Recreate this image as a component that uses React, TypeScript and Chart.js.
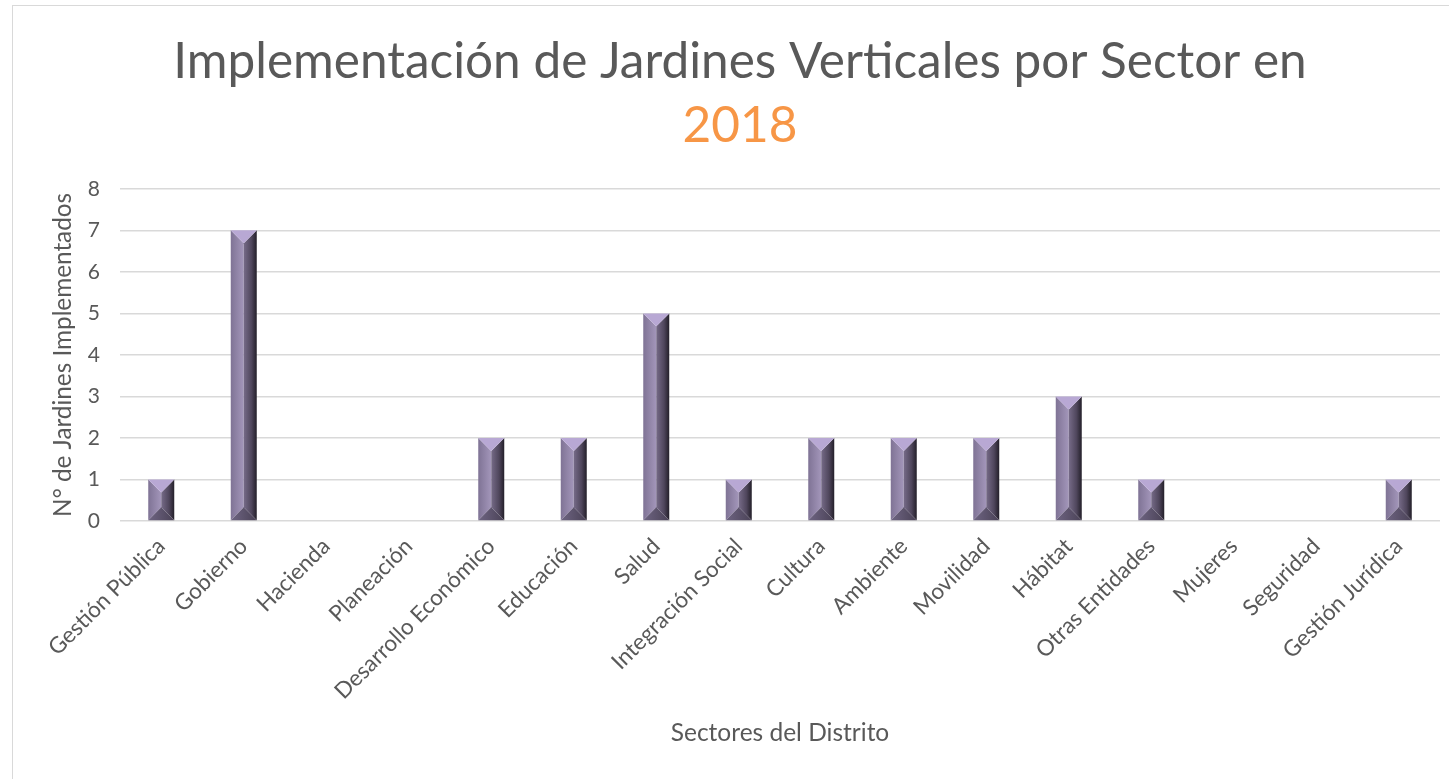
import React, { useEffect, useRef } from "react";
import { Chart, registerables } from "chart.js";

Chart.register(...registerables);

const categories = [
  "Gestión Pública",
  "Gobierno",
  "Hacienda",
  "Planeación",
  "Desarrollo Económico",
  "Educación",
  "Salud",
  "Integración Social",
  "Cultura",
  "Ambiente",
  "Movilidad",
  "Hábitat",
  "Otras Entidades",
  "Mujeres",
  "Seguridad",
  "Gestión Jurídica",
];
const values = [1, 7, 0, 0, 2, 2, 5, 1, 2, 2, 2, 3, 1, 0, 0, 1];
const yTickValues = [0, 1, 2, 3, 4, 5, 6, 7, 8];
const titleLine = "Implementación de Jardines Verticales por Sector en";
const titleYear = "2018";
const yAxisTitle = "N° de Jardines Implementados";
const xAxisTitle = "Sectores del Distrito";

const FONT = "Lato, 'Open Sans', sans-serif";
const TEXT = "#595959";

const bevelPlugin = {
  id: "bevel",
  afterLayout(chart: any) {
    // shift the title block's centre to match the original layout
    (chart.boxes || []).forEach((box: any) => {
      const t = box && box.options && box.options.text;
      if (t === titleLine || t === titleYear) {
        box.left = 40;
        box.right = 1440;
      }
    });
  },
  afterDatasetsDraw(chart: any) {
    const ctx = chart.ctx as CanvasRenderingContext2D;
    const meta = chart.getDatasetMeta(0);
    meta.data.forEach((el: any) => {
      const { x, y, base, width } = el.getProps(["x", "y", "base", "width"], true);
      const h = base - y;
      if (h <= 0.5) return;
      const L = x - width / 2;
      const R = x + width / 2;
      const T = y;
      const B = base;
      const d = Math.min(width / 2, h / 2);
      ctx.save();
      let g = ctx.createLinearGradient(L, 0, x, 0);
      g.addColorStop(0, "#7f7395");
      g.addColorStop(1, "#a396ba");
      ctx.fillStyle = g;
      ctx.beginPath();
      ctx.moveTo(L, T);
      ctx.lineTo(x, T + d);
      ctx.lineTo(x, B - d);
      ctx.lineTo(L, B);
      ctx.closePath();
      ctx.fill();
      g = ctx.createLinearGradient(x, 0, R, 0);
      g.addColorStop(0, "#766b88");
      g.addColorStop(0.6, "#4f465c");
      g.addColorStop(1, "#231f29");
      ctx.fillStyle = g;
      ctx.beginPath();
      ctx.moveTo(R, T);
      ctx.lineTo(x, T + d);
      ctx.lineTo(x, B - d);
      ctx.lineTo(R, B);
      ctx.closePath();
      ctx.fill();
      ctx.fillStyle = "#b8a8d4";
      ctx.beginPath();
      ctx.moveTo(L, T);
      ctx.lineTo(R, T);
      ctx.lineTo(x, T + d);
      ctx.closePath();
      ctx.fill();
      g = ctx.createLinearGradient(L, 0, R, 0);
      g.addColorStop(0, "#6e6482");
      g.addColorStop(1, "#4a4256");
      ctx.fillStyle = g;
      ctx.beginPath();
      ctx.moveTo(L, B);
      ctx.lineTo(R, B);
      ctx.lineTo(x, B - d);
      ctx.closePath();
      ctx.fill();
      ctx.restore();
    });
  },
};

export default function App() {
  const ref = useRef<HTMLCanvasElement | null>(null);

  useEffect(() => {
    if (!ref.current) return;
    const chart = new Chart(ref.current, {
      type: "bar",
      data: {
        labels: categories,
        datasets: [
          {
            label: "Jardines",
            data: values,
            backgroundColor: "rgba(0,0,0,0)",
            borderWidth: 0,
            barPercentage: 0.315,
            categoryPercentage: 1,
          },
        ],
      },
      options: {
        responsive: false,
        animation: false,
        layout: { padding: { left: 0, right: 9, top: 0, bottom: 0 } },
        plugins: {
          legend: { display: false },
          tooltip: { enabled: false },
          title: {
            display: true,
            text: titleLine,
            color: TEXT,
            font: { family: FONT, size: 49.5, weight: "normal", lineHeight: 1.2 },
            padding: { top: 32, bottom: 0 },
          },
          subtitle: {
            display: true,
            text: titleYear,
            color: "#F79646",
            font: { family: FONT, size: 49.5, weight: "normal", lineHeight: 1.2 },
            padding: { top: 5, bottom: 33 },
          },
        },
        scales: {
          x: {
            grid: { display: false, drawTicks: false },
            border: { display: false },
            ticks: {
              autoSkip: false,
              maxRotation: 45,
              minRotation: 45,
              color: TEXT,
              padding: 12,
              font: { family: FONT, size: 22.5 },
            },
            title: {
              display: true,
              text: xAxisTitle,
              color: TEXT,
              font: { family: FONT, size: 24.5, lineHeight: 1.2 },
              padding: { top: 0, bottom: 31 },
            },
            afterFit(scale: any) {
              scale.height = 258;
            },
          },
          y: {
            min: 0,
            max: 8,
            afterBuildTicks(scale: any) {
              scale.ticks = yTickValues.map((v) => ({ value: v }));
            },
            grid: { color: "#d9d9d9", lineWidth: 1.5, drawTicks: false },
            border: { display: false },
            ticks: {
              color: TEXT,
              padding: 20,
              font: { family: FONT, size: 21 },
            },
            title: {
              display: true,
              text: yAxisTitle,
              color: TEXT,
              font: { family: FONT, size: 24.3, lineHeight: 1.2 },
              padding: { top: 49, bottom: 0 },
            },
            afterFit(scale: any) {
              scale.width = 120;
            },
          },
        },
      },
      plugins: [bevelPlugin],
    });
    return () => chart.destroy();
  }, []);

  return (
    <div style={{ position: "fixed", left: 0, top: 0, width: 1449, height: 779, background: "#fff" }}>
      <div
        style={{
          position: "absolute",
          left: 12,
          top: 5,
          width: 2000,
          height: 2000,
          border: "1.5px solid #d9d9d9",
        }}
      />
      <canvas
        ref={ref}
        width={1449}
        height={779}
        style={{ position: "absolute", left: 0, top: 0, width: 1449, height: 779 }}
      />
    </div>
  );
}
